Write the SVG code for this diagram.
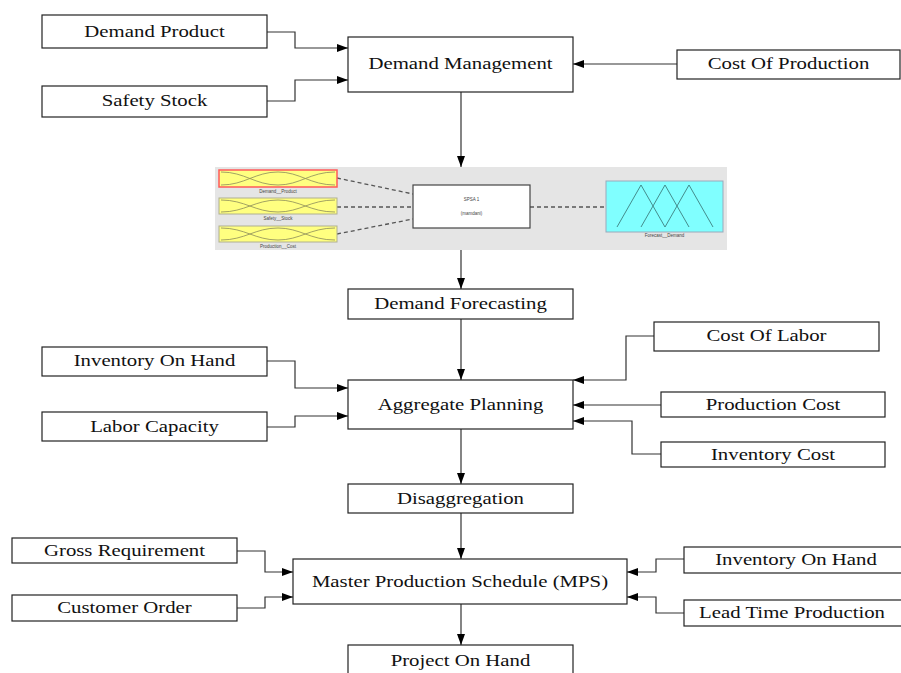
<svg xmlns="http://www.w3.org/2000/svg" width="901" height="673" viewBox="0 0 901 673">
<style>
.box{fill:#fff;stroke:#222;stroke-width:1.2}
.lbl{font-family:"Liberation Serif","Times New Roman",serif;font-size:16px;fill:#111;text-anchor:middle}
.con{fill:none;stroke:#333;stroke-width:1.2}
.dash{fill:none;stroke:#555;stroke-width:1.3;stroke-dasharray:4,3}
.mf{fill:none;stroke:#8c8c5a;stroke-width:0.8}
.tiny{font-family:"Liberation Sans",Arial,sans-serif;font-size:4.5px;fill:#444;text-anchor:middle}
</style>
<defs>
<marker id="ar" markerUnits="userSpaceOnUse" markerWidth="11" markerHeight="8" refX="11" refY="4" orient="auto">
<path d="M0,0 L11,4 L0,8 z" fill="#000"/>
</marker>
</defs>
<rect width="901" height="673" fill="#fff"/>

<g id="connectors">
<path class="con" d="M267,32 H295 V48 H348" marker-end="url(#ar)"/>
<path class="con" d="M267,101 H295 V80 H348" marker-end="url(#ar)"/>
<path class="con" d="M677,64 H573" marker-end="url(#ar)"/>
<path class="con" d="M461,92 V167" marker-end="url(#ar)"/>
<path class="con" d="M461,250 V289" marker-end="url(#ar)"/>
<path class="con" d="M461,319 V380" marker-end="url(#ar)"/>
<path class="con" d="M267,361 H295 V388 H348" marker-end="url(#ar)"/>
<path class="con" d="M267,427 H295 V416 H348" marker-end="url(#ar)"/>
<path class="con" d="M654,336 H626 V380 H573" marker-end="url(#ar)"/>
<path class="con" d="M661,405 H573" marker-end="url(#ar)"/>
<path class="con" d="M661,454 H632 V421 H573" marker-end="url(#ar)"/>
<path class="con" d="M461,429 V484" marker-end="url(#ar)"/>
<path class="con" d="M461,513 V559" marker-end="url(#ar)"/>
<path class="con" d="M237,551 H265 V572 H293" marker-end="url(#ar)"/>
<path class="con" d="M237,608 H265 V597 H293" marker-end="url(#ar)"/>
<path class="con" d="M684,559 H656 V572 H627" marker-end="url(#ar)"/>
<path class="con" d="M684,613 H656 V597 H627" marker-end="url(#ar)"/>
<path class="con" d="M461,604 V645" marker-end="url(#ar)"/>
</g>

<g id="demand-product"><rect class="box" x="42" y="15" width="225" height="33"/><text class="lbl" transform="matrix(1.3 0 0 1 154.5 37)">Demand Product</text></g>
<g id="safety-stock"><rect class="box" x="42" y="86" width="225" height="31"/><text class="lbl" transform="matrix(1.3 0 0 1 154.5 106)">Safety Stock</text></g>
<g id="demand-management"><rect class="box" x="348" y="37" width="225" height="55"/><text class="lbl" transform="matrix(1.3 0 0 1 460.5 69)">Demand Management</text></g>
<g id="cost-of-production"><rect class="box" x="677" y="50" width="223" height="29"/><text class="lbl" transform="matrix(1.3 0 0 1 788.5 69)">Cost Of Production</text></g>

<g id="fuzzy-panel">
<rect x="215" y="167" width="512" height="83" fill="#e5e5e5"/>
<path class="dash" d="M337,178 L413,194"/>
<path class="dash" d="M337,207 L413,207"/>
<path class="dash" d="M337,234 L413,219"/>
<path class="dash" d="M530,207 L606,207"/>
<rect x="219" y="170" width="118" height="17" fill="#ffff80" stroke="#ff5a5a" stroke-width="1.5"/>
<path class="mf" d="M221,172 C245,172 255,185 278,185 M221,185 C245,185 255,172 278,172 C300,172 310,185 335,185 M278,185 C300,185 310,172 335,172"/>
<text class="tiny" x="278" y="193">Demand__Product</text>
<rect x="219" y="198" width="118" height="16" fill="#ffff80" stroke="#b0b090" stroke-width="1"/>
<path class="mf" d="M221,200 C245,200 255,212 278,212 M221,212 C245,212 255,200 278,200 C300,200 310,212 335,212 M278,212 C300,212 310,200 335,200"/>
<text class="tiny" x="278" y="220">Safety__Stock</text>
<rect x="219" y="226" width="118" height="16" fill="#ffff80" stroke="#b0b090" stroke-width="1"/>
<path class="mf" d="M221,228 C245,228 255,240 278,240 M221,240 C245,240 255,228 278,228 C300,228 310,240 335,240 M278,240 C300,240 310,228 335,228"/>
<text class="tiny" x="278" y="248">Production__Cost</text>
<rect x="413" y="185" width="117" height="43" fill="#fff" stroke="#444" stroke-width="1.2"/>
<text class="tiny" x="471.5" y="201">SPSA 1</text>
<text class="tiny" x="471.5" y="215">(mamdani)</text>
<rect x="606" y="181" width="117" height="51" fill="#80ffff" stroke="#9ab" stroke-width="1"/>
<path d="M617,227 L641,185 L665,227 M641,227 L665,185 L689,227 M665,227 L689,185 L713,227" fill="none" stroke="#3d7f7f" stroke-width="0.9"/>
<text class="tiny" x="664.5" y="237">Forecast__Demand</text>
</g>

<g id="demand-forecasting"><rect class="box" x="348" y="289" width="225" height="30"/><text class="lbl" transform="matrix(1.3 0 0 1 460.5 309)">Demand Forecasting</text></g>
<g id="inventory-on-hand-1"><rect class="box" x="42" y="347" width="225" height="29"/><text class="lbl" transform="matrix(1.3 0 0 1 154.5 366)">Inventory On Hand</text></g>
<g id="labor-capacity"><rect class="box" x="42" y="412" width="225" height="29"/><text class="lbl" transform="matrix(1.3 0 0 1 154.5 432)">Labor Capacity</text></g>
<g id="aggregate-planning"><rect class="box" x="348" y="380" width="225" height="49"/><text class="lbl" transform="matrix(1.3 0 0 1 460.5 410)">Aggregate Planning</text></g>
<g id="cost-of-labor"><rect class="box" x="654" y="322" width="225" height="29"/><text class="lbl" transform="matrix(1.3 0 0 1 766.5 341)">Cost Of Labor</text></g>
<g id="production-cost"><rect class="box" x="661" y="392" width="224" height="25"/><text class="lbl" transform="matrix(1.3 0 0 1 773 410)">Production Cost</text></g>
<g id="inventory-cost"><rect class="box" x="661" y="442" width="224" height="25"/><text class="lbl" transform="matrix(1.3 0 0 1 773 460)">Inventory Cost</text></g>
<g id="disaggregation"><rect class="box" x="348" y="484" width="225" height="29"/><text class="lbl" transform="matrix(1.3 0 0 1 460.5 504)">Disaggregation</text></g>
<g id="gross-requirement"><rect class="box" x="12" y="538" width="225" height="25"/><text class="lbl" transform="matrix(1.3 0 0 1 124.5 556)">Gross Requirement</text></g>
<g id="customer-order"><rect class="box" x="12" y="595" width="225" height="26"/><text class="lbl" transform="matrix(1.3 0 0 1 124.5 613)">Customer Order</text></g>
<g id="mps"><rect class="box" x="293" y="559" width="334" height="45"/><text class="lbl" transform="matrix(1.3 0 0 1 460 587)">Master Production Schedule (MPS)</text></g>
<g id="inventory-on-hand-2"><rect class="box" x="684" y="547" width="220" height="26"/><text class="lbl" transform="matrix(1.3 0 0 1 796 565)">Inventory On Hand</text></g>
<g id="lead-time-production"><rect class="box" x="684" y="600" width="220" height="26"/><text class="lbl" transform="matrix(1.3 0 0 1 792 618)">Lead Time Production</text></g>
<g id="project-on-hand"><rect class="box" x="348" y="645" width="225" height="40"/><text class="lbl" transform="matrix(1.3 0 0 1 460.5 666)">Project On Hand</text></g>
</svg>
